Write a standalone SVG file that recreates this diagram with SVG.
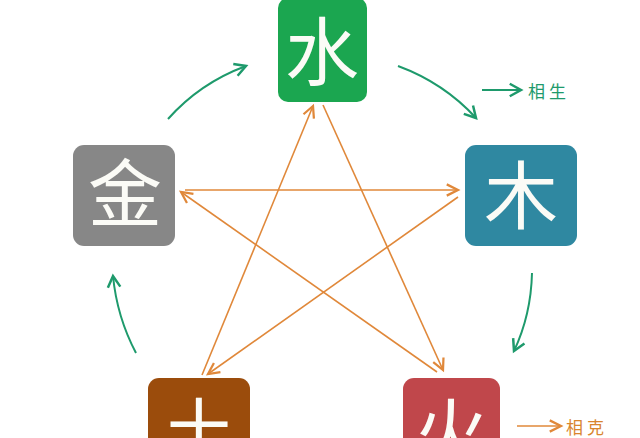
<svg xmlns="http://www.w3.org/2000/svg" width="640" height="438" viewBox="0 0 640 438">
<style>
.box{stroke:none}
.ch{font-family:"Noto Sans CJK SC","Noto Sans CJK JP",sans-serif;font-size:74px;fill:#fbfbf6;text-anchor:middle;dominant-baseline:central;font-weight:400}
.ke{fill:none;stroke:#e0883a;stroke-width:1.6}
.sh{fill:none;stroke:#1e9a6c;stroke-width:2}
.lg{font-family:"Noto Sans CJK SC","Noto Sans CJK JP",sans-serif;font-size:17px;letter-spacing:4px;dominant-baseline:central}
</style>
<defs>
<marker id="ao" markerUnits="userSpaceOnUse" markerWidth="20" markerHeight="20" viewBox="-12 -8 16 16" refX="0" refY="0" orient="auto">
<path d="M-9,-4.5 L0,0 L-9,4.5" fill="none" stroke="#e0883a" stroke-width="1.8"/>
</marker>
<marker id="ag" markerUnits="userSpaceOnUse" markerWidth="20" markerHeight="20" viewBox="-12 -8 16 16" refX="0" refY="0" orient="auto">
<path d="M-9,-5 L0,0 L-9,5" fill="none" stroke="#1e9a6c" stroke-width="2"/>
</marker>
</defs>
<rect width="640" height="438" fill="#ffffff"/>
<g id="connectors">
<path class="ke" d="M202,375 L313,106" marker-end="url(#ao)"/>
<path class="ke" d="M323,105 L443,370" marker-end="url(#ao)"/>
<path class="ke" d="M437,372 L181,192" marker-end="url(#ao)"/>
<path class="ke" d="M185,190 L458,190" marker-end="url(#ao)"/>
<path class="ke" d="M458,197 L208,374" marker-end="url(#ao)"/>
<path class="sh" d="M168,119 Q200,83 246,66" marker-end="url(#ag)"/>
<path class="sh" d="M398,66 Q444,83 476,118" marker-end="url(#ag)"/>
<path class="sh" d="M532,273 Q531,315 514,351" marker-end="url(#ag)"/>
<path class="sh" d="M136,353 Q117,317 113,276" marker-end="url(#ag)"/>
</g>
<g id="shui">
<rect class="box" x="278" y="-2" width="89" height="104" rx="10" fill="#1ba650"/>
<text class="ch" x="322" y="46">水</text>
</g>
<g id="mu">
<rect class="box" x="465" y="145" width="112" height="101" rx="11" fill="#2f88a1"/>
<text class="ch" x="521" y="190">木</text>
</g>
<g id="jin">
<rect class="box" x="73" y="145" width="102" height="101" rx="11" fill="#878787"/>
<text class="ch" x="125" y="188">金</text>
</g>
<g id="tu">
<rect class="box" x="148" y="378" width="102" height="100" rx="11" fill="#9b4c0c"/>
<text class="ch" x="199" y="427">土</text>
</g>
<g id="huo">
<rect class="box" x="403" y="378" width="97" height="100" rx="11" fill="#c0474b"/>
<text class="ch" x="451" y="427">火</text>
</g>
<g id="legend-sheng">
<path class="sh" d="M482,90 L521,90" marker-end="url(#ag)" stroke-width="1.6"/>
<text class="lg" x="528" y="90" fill="#1e9a6c">相生</text>
</g>
<g id="legend-ke">
<path class="ke" d="M517,426 L561,426" marker-end="url(#ao)"/>
<text class="lg" x="566" y="426" fill="#d9852f">相克</text>
</g>
</svg>
